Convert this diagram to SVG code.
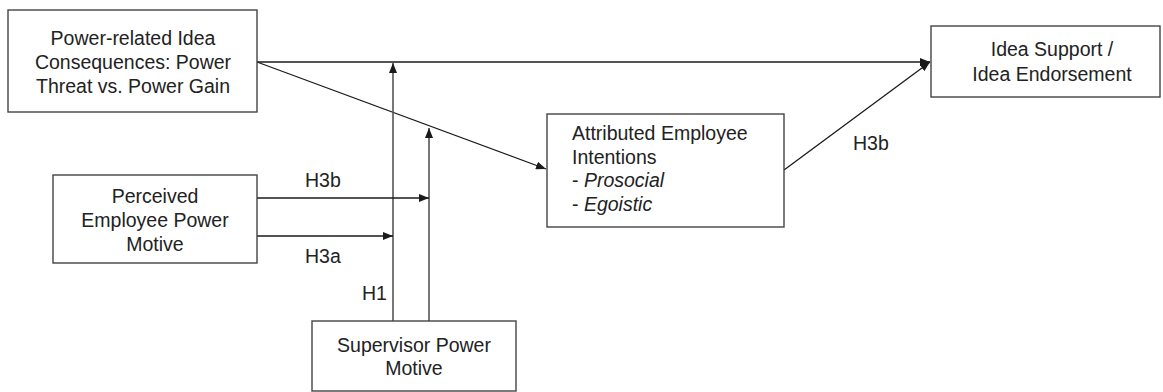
<svg xmlns="http://www.w3.org/2000/svg" width="1163" height="392" viewBox="0 0 1163 392">
<style>
.box{fill:#fff;stroke:#444;stroke-width:1.4}
.ln{fill:none;stroke:#1a1a1a;stroke-width:1.3}
.vl{fill:none;stroke:#555;stroke-width:1.6}
text{font-family:"Liberation Sans",Arial,sans-serif;font-size:19.5px;fill:#222}
.c{text-anchor:middle}
.i{font-style:italic}
</style>
<defs>
<marker id="ah" viewBox="0 0 10 8" refX="10" refY="4" markerWidth="10" markerHeight="8" markerUnits="userSpaceOnUse" orient="auto">
<path d="M0,0 L10,4 L0,8 Z" fill="#1a1a1a"/>
</marker>
</defs>
<rect width="1163" height="392" fill="#fff"/>
<g id="connectors">
<line class="ln" x1="257" y1="62" x2="930" y2="62" marker-end="url(#ah)"/>
<line class="ln" x1="257" y1="62" x2="546" y2="169" marker-end="url(#ah)"/>
<line class="ln" x1="784" y1="170" x2="930" y2="62" marker-end="url(#ah)"/>
<line class="vl" x1="393" y1="321" x2="393" y2="63" marker-end="url(#ah)"/>
<line class="vl" x1="429" y1="321" x2="429" y2="128" marker-end="url(#ah)"/>
<line class="ln" x1="257" y1="198" x2="429" y2="198" marker-end="url(#ah)"/>
<line class="ln" x1="257" y1="236" x2="393" y2="236" marker-end="url(#ah)"/>
<text x="305" y="187">H3b</text>
<text x="305" y="263">H3a</text>
<text x="362" y="300">H1</text>
<text x="853" y="150">H3b</text>
</g>
<g id="power-consequences">
<rect class="box" x="8" y="10" width="249" height="102"/>
<text class="c" x="133" y="45">Power-related Idea</text>
<text class="c" x="133" y="69">Consequences: Power</text>
<text class="c" x="133" y="93">Threat vs. Power Gain</text>
</g>
<g id="idea-support">
<rect class="box" x="931" y="26" width="229" height="71"/>
<text class="c" x="1052" y="56">Idea Support /</text>
<text class="c" x="1052" y="81">Idea Endorsement</text>
</g>
<g id="attributed-intentions">
<rect class="box" x="547" y="114" width="237" height="113"/>
<text x="572" y="140">Attributed Employee</text>
<text x="572" y="164">Intentions</text>
<text x="572" y="187">- <tspan class="i">Prosocial</tspan></text>
<text x="572" y="211">- <tspan class="i">Egoistic</tspan></text>
</g>
<g id="employee-power-motive">
<rect class="box" x="53" y="175" width="204" height="88"/>
<text class="c" x="155" y="203">Perceived</text>
<text class="c" x="155" y="227">Employee Power</text>
<text class="c" x="155" y="251">Motive</text>
</g>
<g id="supervisor-power-motive">
<rect class="box" x="312" y="321" width="204" height="70"/>
<text class="c" x="414" y="352">Supervisor Power</text>
<text class="c" x="414" y="375">Motive</text>
</g>
</svg>
